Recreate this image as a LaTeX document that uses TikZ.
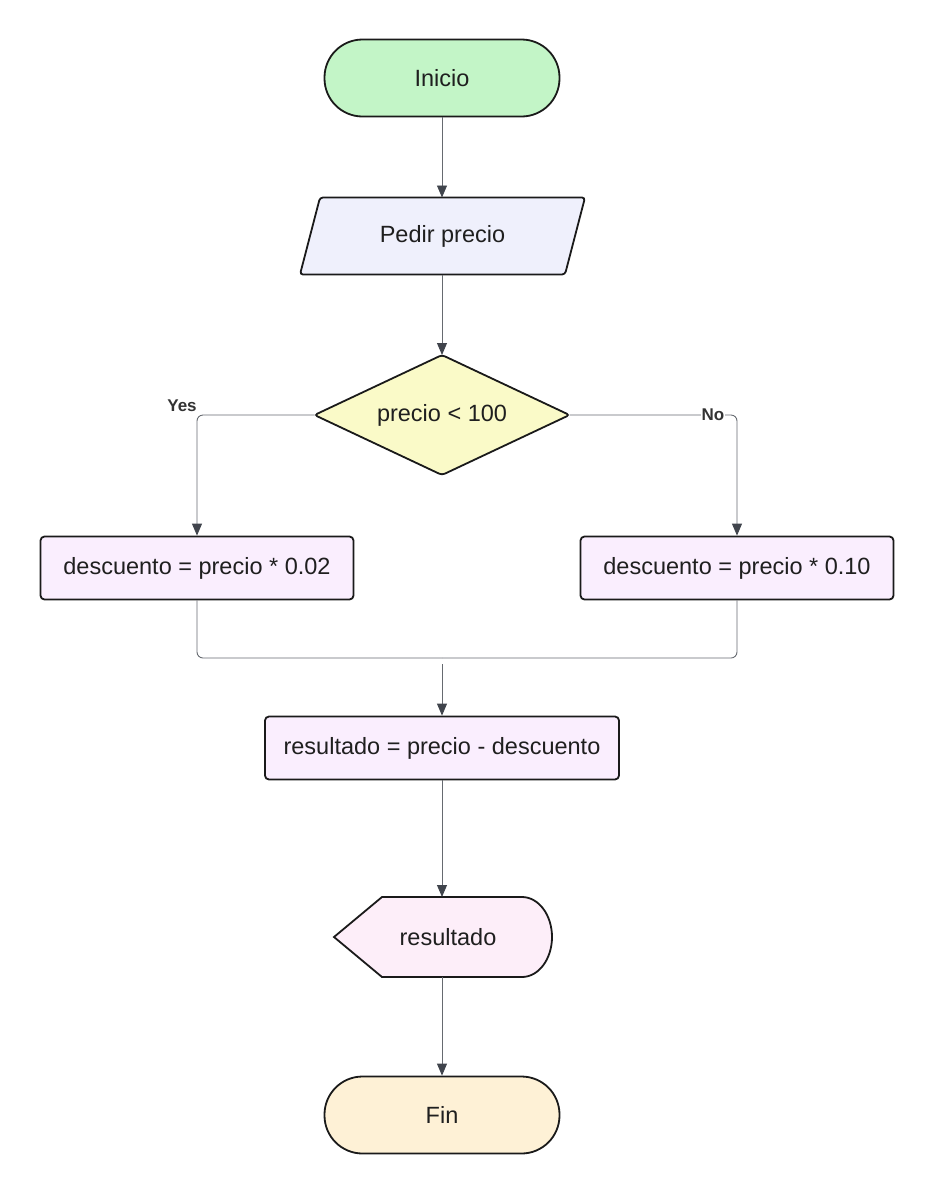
\documentclass[tikz,border=0pt]{standalone}
\usepackage{fontspec}
\setmainfont{Liberation Sans}
\usetikzlibrary{arrows.meta,calc}
\definecolor{startfill}{HTML}{C3F5C7}
\definecolor{iofill}{HTML}{EFF0FC}
\definecolor{decfill}{HTML}{FAFAC8}
\definecolor{procfill}{HTML}{FAEEFE}
\definecolor{dispfill}{HTML}{FDEEF9}
\definecolor{endfill}{HTML}{FEF1D6}
\definecolor{edge}{HTML}{1A1A1A}
\definecolor{wire}{HTML}{666A70}
\definecolor{tip}{HTML}{40444C}
\tikzset{
  label font/.style={font=\fontsize{23.5}{27}\selectfont, text=black!88},
  base/.style={draw=edge, line width=1.8pt, label font},
  terminal/.style={base, rectangle, rounded corners=38pt, minimum width=235pt, minimum height=77pt},
  procbox/.style={base, rectangle, rounded corners=4pt, fill=procfill, minimum height=63pt},
  frame/.style={inner sep=0pt, outer sep=0pt},
  outline/.style={draw=edge, line width=1.8pt, rounded corners=3pt},
  flow/.style={draw=wire, line width=0.9pt, rounded corners=6pt,
               -{Triangle[length=12pt,width=10pt,fill=tip,color=tip]}},
  joint/.style={draw=wire, line width=0.9pt, rounded corners=6pt},
  branch/.style={font=\bfseries\fontsize{17}{19}\selectfont, text=black!80}
}
\begin{document}
\begin{tikzpicture}[x=1pt,y=-1pt]
\useasboundingbox (0,0) rectangle (934,1195);

\node[terminal, fill=startfill] (start) at (442,78) {Inicio};

% input parallelogram, slanted to the right
\node[frame, minimum width=285pt, minimum height=77pt] (input) at (442.5,236) {};
\filldraw[outline, fill=iofill]
  ([xshift=20pt]input.north west) -- (input.north east)
  -- ([xshift=-20pt]input.south east) -- (input.south west) -- cycle;
\node[label font] at (input) {Pedir precio};

% decision diamond
\node[frame, minimum width=255pt, minimum height=120pt] (cond) at (442,415) {};
\filldraw[outline, fill=decfill]
  (cond.north) -- (cond.east) -- (cond.south) -- (cond.west) -- cycle;
\node[label font] at (cond) {precio < 100};

\node[procbox, minimum width=313pt] (low) at (197,568) {descuento = precio * 0.02};
\node[procbox, minimum width=313pt] (high) at (737,568) {descuento = precio * 0.10};
\node[procbox, minimum width=354pt] (calc) at (442,748) {resultado = precio - descuento};

% display symbol: pointed left end, rounded right end
\node[frame, minimum width=218pt, minimum height=80pt] (show) at (443,937) {};
\filldraw[draw=edge, line width=1.8pt, fill=dispfill]
  ([xshift=48pt]show.north west) -- ([xshift=-30pt]show.north east)
  arc[start angle=90, end angle=-90, x radius=30pt, y radius=40pt]
  -- ([xshift=48pt]show.south west) -- (show.west) -- cycle;
\node[label font] at (448,937) {resultado};

\node[terminal, fill=endfill] (stop) at (442,1115) {Fin};

% connectors
\draw[flow] (start) -- (input.north -| start.south);
\draw[flow] (input.south -| start.south) -- (cond.north);
\draw[flow] (cond.west) -| (low.north);
\draw[flow] (cond.east) -| (high.north);
\coordinate (merge) at (442,658);
\draw[joint] (low.south) |- (merge);
\draw[joint] (high.south) |- (merge);
\draw[flow] ([yshift=-6pt]merge) -- (calc.north);
\draw[flow] (calc) -- (show.north -| calc.south);
\draw[flow] (show.south -| calc.south) -- (stop);

% branch labels
\node[branch] (yes) at (182,406) {Yes};
\node[branch, fill=white, inner sep=1pt] (no) at (713,415) {No};
\end{tikzpicture}
\end{document}
